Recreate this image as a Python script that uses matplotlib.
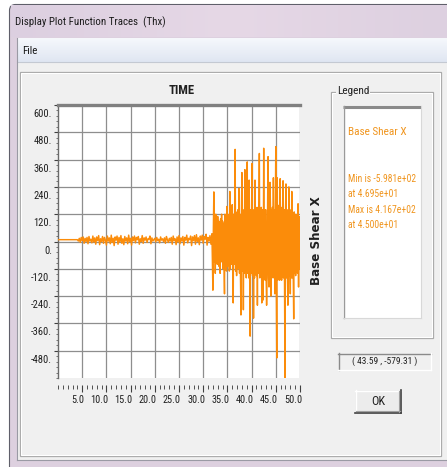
import numpy as np
import matplotlib
matplotlib.use('Agg')
import matplotlib.pyplot as plt
from matplotlib import font_manager
from matplotlib.font_manager import FontProperties
from matplotlib.textpath import TextPath
from matplotlib.patches import Rectangle, FancyBboxPatch
from matplotlib.ticker import MultipleLocator
from matplotlib.transforms import ScaledTranslation
from matplotlib.colors import LinearSegmentedColormap

# ---------------- data ----------------
x_ticks = [5.0, 10.0, 15.0, 20.0, 25.0, 30.0, 35.0, 40.0, 45.0, 50.0]
x_tick_labels = ['5.0', '10.0', '15.0', '20.0', '25.0', '30.0', '35.0', '40.0', '45.0', '50.0']
y_ticks = [600, 480, 360, 240, 120, 0, -120, -240, -360, -480]
y_tick_labels = ['600.', '480.', '360.', '240.', '120.', '0.', '-120.', '-240.', '-360.', '-480.']

# quiet start (flat)
flat_t = [0.0, 3.8]
flat_v = [8, 8]

# low-level noise, sampled every 0.2 s from 4.0 s
noise_v = [
    8, 2, 14, -4, 18, 4, 20, -8, 14, 0,
    18, -10, 22, 2, 10, -6, 24, -2, 16, -12,
    20, 4, 26, -14, 12, 0, 22, -8, 18, 6,
    -16, 24, 2, 16, -10, 28, -4, 14, -18, 20,
    6, 24, -12, 18, -2, 26, -8, 12, -14, 22,
    2, 16, -10, 28, 0, 14, -16, 20, 4, 24,
    -6, 18, 8, 22, -12, 12, 0, 26, -8, 16,
    6, 20, -4, 12, 10, 24, -10, 16, 2, 8,
    14, -2, 18, 4, 10, -6, 20, 6, 12, 0,
    16, -8, 22, 8, -4, 14, 2, 18, -12, 24,
    4, 12, -14, 20, -2, 26, -10, 16, 2, 22,
    -16, 18, 6, 28, -6, 14, 8, 24, -18, 20,
    4, 26, -12, 30, 0, 16, -14, 24, 6, 28,
    -8, 22, 10, 32, -16, 18, 2, 26, -12, 34,
]

# strong shaking, sampled every 0.1 s from 32.0 s to 50.0 s
strong_v = [
    -214, 60, 218, -90, 100, -140, 120, -60, 90, -100,
    110, -80, 90, -110, 70, -140, 100, -90, 120, -70,
    90, -120, 80, -100, -230, 120, -80, 110, -130, 154,
    -110, 120, -90, 100, -130, 220, -120, 130, -100, 110,
    162, -140, -270, 120, -100, 130, 405, -130, 110, -150,
    130, -120, 140, -110, 233, -140, 120, -150, -323, 130,
    303, -130, 140, -300, 120, -140, 316, -120, 130, -160,
    140, 350, -140, 150, -160, 270, -150, -416, 140, -140,
    150, 343, -150, 130, -337, 140, -160, 270, -140, 150,
    -150, 130, -280, 150, -140, 140, 387, -160, 130, -140,
    150, -270, 140, -150, -257, 410, -160, 130, -170, 140,
    -150, -280, -140, 150, 373, -160, -200, 140, 260, 150,
    -240, 140, -160, 150, -140, 280, -160, 140, -230, 150,
    417, -160, -512, 280, -170, 150, -160, 160, -170, 276,
    -150, 150, -170, -52, 140, 267, -160, 140, -180, -598,
    130, 253, -160, 140, -150, -280, -170, 240, -150, 140,
    -230, 130, -160, 220, -160, 120, -150, -340, 130, -140,
    120, -150, 110, -130, 120, -140, 166, -200, 110, -120,
    100,
]

series_name = 'Base Shear X'
legend_lines = ['Min is -5.981e+02', 'at 4.695e+01', 'Max is 4.167e+02', 'at 4.500e+01']
cursor_text = '( 43.59 , -579.31 )'
title_text = 'Display Plot Function Traces  (Thx)'

noise_t = np.round(4.0 + 0.2 * np.arange(len(noise_v)), 2)
strong_t = np.round(32.0 + 0.1 * np.arange(len(strong_v)), 2)
t = np.concatenate([flat_t, noise_t, strong_t])
v = np.concatenate([flat_v, noise_v, strong_v]).astype(float)

# ---------------- fonts ----------------
def pick_narrow():
    prefs = ['Liberation Sans Narrow', 'Arial Narrow', 'Roboto Condensed', 'Open Sans Condensed',
             'Noto Sans Condensed', 'DejaVu Sans Condensed']
    entries = font_manager.fontManager.ttflist
    for p in prefs:
        for f in entries:
            if f.name == p and f.style == 'normal':
                return FontProperties(family=f.name, stretch=f.stretch)
    for f in entries:
        st = f.stretch
        cond = (isinstance(st, str) and 'condensed' in st) or (isinstance(st, (int, float)) and st < 500)
        if cond and f.style == 'normal' and 'Mono' not in f.name:
            return FontProperties(family=f.name, stretch=f.stretch)
    return FontProperties(family='DejaVu Sans')

BASEFP = pick_narrow()
FAM = BASEFP.get_family()[0]
STRETCH = BASEFP.get_stretch()
plt.rcParams['font.family'] = [FAM, 'DejaVu Sans']
plt.rcParams['font.stretch'] = STRETCH

DPI = 100
W, H = 447, 467
GROW = 1.1

def fit(text, target_px, bold=False):
    fp = FontProperties(family=FAM, stretch=STRETCH, weight='bold' if bold else 'normal')
    wpt = TextPath((0, 0), text, size=10, prop=fp).get_extents().width
    wpx = wpt * DPI / 72.0
    return GROW * 10 * target_px / max(wpx, 1e-6)

fig = plt.figure(figsize=(W / DPI, H / DPI), dpi=DPI)
fig.patch.set_facecolor('white')

# background / window chrome in pixel coordinates
bg = fig.add_axes([0, 0, 1, 1])
bg.set_xlim(0, W)
bg.set_ylim(H, 0)
bg.axis('off')
bg.set_zorder(0)

LAV = '#ddd0df'
bg.add_patch(FancyBboxPatch((9.5, 4.5), 460, 480, boxstyle='round,pad=0,rounding_size=6',
                            facecolor=LAV, edgecolor='#5f5f6a', lw=0.8))
grad = np.linspace(0, 1, 256).reshape(1, -1)
tcm = LinearSegmentedColormap.from_list('t', ['#dccfe0', '#e6d8e6', '#ddd0e0'])
bg.imshow(grad, extent=(10.5, 447, 37, 5.5), cmap=tcm, aspect='auto', zorder=1)
mcm = LinearSegmentedColormap.from_list('m', ['#f6f8fc', '#dfe6f2'])
bg.imshow(np.linspace(0, 1, 64).reshape(-1, 1), extent=(17, 447, 62, 38), cmap=mcm, aspect='auto', zorder=1)
bg.plot([17, 447], [62, 62], color='#c4c9d2', lw=0.8, zorder=2)
bg.plot([16.5, 16.5], [38, 460], color='#9a9aa4', lw=0.8, zorder=2)
bg.add_patch(Rectangle((17, 62.5), 430, 397, facecolor='#f0f0f0', edgecolor='none', zorder=1))
bg.plot([17, 447], [459.5, 459.5], color='#9a9aa4', lw=0.8, zorder=2)
bg.add_patch(Rectangle((20, 72), 421, 384, facecolor='none', edgecolor='#a8a8a8', lw=0.9, zorder=2))
bg.add_patch(Rectangle((21, 73), 419, 382, facecolor='none', edgecolor='white', lw=0.8, zorder=2))

bg.text(15, 22, title_text, fontsize=fit(title_text, 142) / GROW * 1.05, color='#1a1a1a',
        va='center', ha='left', zorder=3)
bg.text(22, 51, 'File', fontsize=fit('File', 13), color='#1a1a1a', va='center', zorder=3)

bg.text(182, 90, 'TIME', fontsize=fit('TIME', 23, bold=True), fontweight='bold',
        color='#202020', ha='center', va='center', zorder=3)
bg.text(316, 241, series_name, fontsize=8.6, family='DejaVu Sans', fontweight='bold', stretch='normal',
        rotation=90, color='#202020', ha='center', va='center', zorder=3)

# Legend group box
bg.add_patch(Rectangle((331, 92), 102, 246, facecolor='none', edgecolor='#a8a8a8', lw=0.9, zorder=2))
bg.add_patch(Rectangle((332, 93), 100, 244, facecolor='none', edgecolor='white', lw=0.8, zorder=2))
bg.text(337, 91, 'Legend', fontsize=fit('Legend', 28), color='#202020', va='center', ha='left',
        zorder=3, bbox=dict(facecolor='#f0f0f0', edgecolor='none', pad=0.6))
bg.add_patch(Rectangle((343, 106), 78, 212, facecolor='white', edgecolor='none', zorder=2))
bg.plot([343, 421], [107, 107], color='#8a8a8a', lw=2.2, zorder=3, solid_capstyle='butt')
bg.plot([343.5, 343.5], [106, 318], color='#9a9a9a', lw=1.0, zorder=3)
bg.plot([343, 421], [318, 318], color='#d8d8d8', lw=0.8, zorder=3)
bg.plot([421, 421], [106, 318], color='#d8d8d8', lw=0.8, zorder=3)

LEG_C = '#f0951e'
leg_fs = fit(legend_lines[0], 64) / GROW * 1.05
bg.text(348, 132, series_name, fontsize=fit(series_name, 52), color=LEG_C, va='center', zorder=4)
for i, line in enumerate(legend_lines):
    bg.text(348, 179 + i * 15.3, line, fontsize=leg_fs, color=LEG_C, va='center', zorder=4)

# cursor coordinates box
bg.add_patch(Rectangle((338, 353), 93, 17, facecolor='#f0f0f0', edgecolor='none', zorder=2))
bg.plot([338, 431], [353.5, 353.5], color='#8a8a8a', lw=1.0, zorder=3)
bg.plot([338.5, 338.5], [353, 370], color='#8a8a8a', lw=1.0, zorder=3)
bg.plot([338, 431], [370, 370], color='white', lw=1.0, zorder=3)
bg.plot([431, 431], [353, 370], color='white', lw=1.0, zorder=3)
bg.text(385, 361.5, cursor_text, fontsize=fit(cursor_text, 58), color='#202020',
        ha='center', va='center', zorder=4)

# OK button
bg.add_patch(Rectangle((355, 390), 46, 23, facecolor='#ececec', edgecolor='none', zorder=2))
bg.plot([355, 401], [390.5, 390.5], color='white', lw=1.0, zorder=3)
bg.plot([355.5, 355.5], [390, 413], color='white', lw=1.0, zorder=3)
bg.plot([355, 401], [412.5, 412.5], color='#404040', lw=1.2, zorder=3)
bg.plot([400.5, 400.5], [390, 413], color='#404040', lw=1.2, zorder=3)
bg.plot([356, 400], [411.3, 411.3], color='#a0a0a0', lw=0.8, zorder=3)
bg.plot([399.3, 399.3], [391, 412], color='#a0a0a0', lw=0.8, zorder=3)
bg.text(378, 401.5, 'OK', fontsize=fit('OK', 12), color='#202020',
        ha='center', va='center', zorder=4)

# ---------------- main plot ----------------
L, R, T, B = 58, 300, 105, 378
ax = fig.add_axes([L / W, 1 - B / H, (R - L) / W, (B - T) / H])
ax.set_zorder(5)
ax.set_facecolor('white')
ax.plot(t, v, color='#fb8c0a', lw=1.05, zorder=3)
ax.set_xlim(0, 50)
ax.set_ylim(-600, 600)

ax.set_xticks(x_ticks)
ax.set_xticklabels(x_tick_labels)
ax.set_yticks(y_ticks)
ax.set_yticklabels(y_tick_labels)
ax.xaxis.set_minor_locator(MultipleLocator(1))
ax.yaxis.set_minor_locator(MultipleLocator(24))

ax.grid(True, which='major', color='#8e8e8e', lw=0.9, zorder=1)
ax.set_axisbelow(True)
for tk in ax.xaxis.get_major_ticks():
    if tk.get_loc() >= 50:
        tk.gridline.set_visible(False)
for tk in ax.yaxis.get_major_ticks():
    if tk.get_loc() >= 600:
        tk.gridline.set_visible(False)

ax.spines['right'].set_visible(False)
ax.spines['bottom'].set_position(('outward', 5))
ax.spines['bottom'].set_visible(False)
ax.spines['top'].set_color('#808080')
ax.spines['top'].set_linewidth(2.4)
ax.spines['left'].set_color('#6a6a6a')
ax.spines['left'].set_linewidth(1.0)

xfs = fit('10.0', 15)
yfs = fit('-480.', 18)
ax.tick_params(axis='x', which='major', direction='out', length=6.5 * 0.72, width=0.8,
               color='#404040', pad=2.5, labelsize=xfs, labelcolor='#202020')
ax.tick_params(axis='x', which='minor', direction='out', length=3.5 * 0.72, width=0.7, color='#505050')
ax.tick_params(axis='y', which='major', direction='out', length=4 * 0.72, width=0.8,
               color='#404040', pad=1.5, labelsize=yfs, labelcolor='#202020')
ax.tick_params(axis='y', which='minor', direction='out', length=2 * 0.72, width=0.6, color='#606060')

for lbl in ax.get_xticklabels():
    lbl.set_ha('right')
    lbl.set_transform(lbl.get_transform() + ScaledTranslation(0.02, 0, fig.dpi_scale_trans))
for lbl in ax.get_yticklabels():
    lbl.set_transform(lbl.get_transform() + ScaledTranslation(0, -0.08, fig.dpi_scale_trans))

fig.savefig('out.png', dpi=DPI, facecolor=fig.get_facecolor())
